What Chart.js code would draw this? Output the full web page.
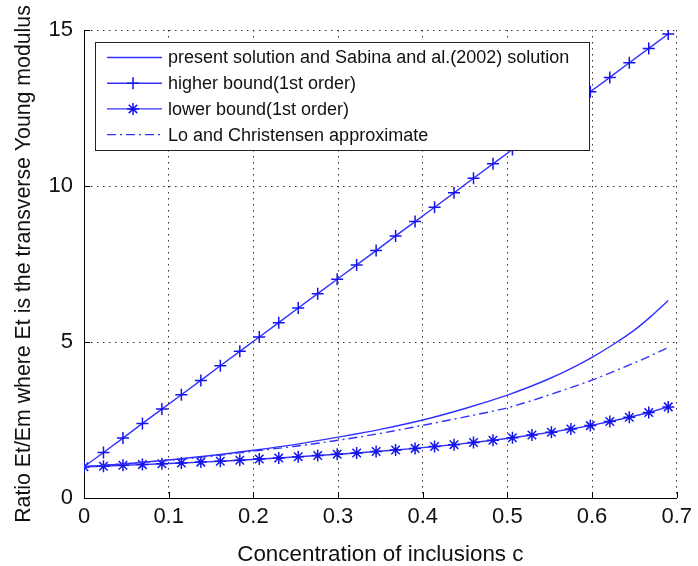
<!DOCTYPE html>
<html>
<head>
<meta charset="utf-8">
<script src="https://cdn.jsdelivr.net/npm/chart.js@4.4.0/dist/chart.umd.min.js"></script>
<style>
  html, body { margin: 0; padding: 0; background: #fff; }
  #wrap { width: 698px; height: 566px; }
</style>
</head>
<body>
<div id="wrap"><canvas id="chart" width="698" height="566"></canvas></div>
<script>
'use strict';

// ── Data ─────────────────────────────────────────────────────────────────────
// marker positions used by the two bounds
const markerC = [0, 0.023, 0.046, 0.069, 0.092, 0.115, 0.138, 0.161, 0.184, 0.207,
                 0.23, 0.253, 0.276, 0.299, 0.322, 0.345, 0.368, 0.391, 0.414, 0.437,
                 0.46, 0.483, 0.506, 0.529, 0.552, 0.575, 0.598, 0.621, 0.644, 0.667, 0.69];
const upperBound = [1, 1.46, 1.92, 2.39, 2.85, 3.31, 3.77, 4.24, 4.70, 5.16,
                    5.62, 6.09, 6.55, 7.01, 7.47, 7.93, 8.40, 8.86, 9.32, 9.78,
                    10.25, 10.71, 11.17, 11.63, 12.10, 12.56, 13.02, 13.48, 13.95, 14.41, 14.87];
const lowerBound = [1, 1.02, 1.05, 1.07, 1.10, 1.12, 1.15, 1.18, 1.21, 1.25,
                    1.28, 1.32, 1.36, 1.40, 1.44, 1.49, 1.54, 1.59, 1.65, 1.71,
                    1.78, 1.85, 1.93, 2.02, 2.11, 2.21, 2.32, 2.45, 2.59, 2.74, 2.92];

// smooth curves
const curveC        = [0, 0.05, 0.1, 0.15, 0.2, 0.25, 0.3, 0.35, 0.4, 0.45, 0.5,
                       0.525, 0.55, 0.575, 0.6, 0.625, 0.65, 0.67, 0.69];
const presentSol    = [1, 1.10, 1.22, 1.36, 1.53, 1.72, 1.95, 2.20, 2.50, 2.87, 3.30,
                       3.55, 3.83, 4.15, 4.51, 4.92, 5.38, 5.83, 6.33];
const loChristensen = [1, 1.10, 1.21, 1.34, 1.50, 1.66, 1.85, 2.07, 2.33, 2.60, 2.89,
                       3.09, 3.31, 3.54, 3.78, 4.05, 4.33, 4.57, 4.82];

const seriesLabels = [
    'present solution and Sabina and al.(2002) solution',
    'higher bound(1st order)',
    'lower bound(1st order)',
    'Lo and Christensen approximate'
];

const xTicks = [0, 0.1, 0.2, 0.3, 0.4, 0.5, 0.6, 0.7];
const yTicks = [0, 5, 10, 15];

// ── Style ────────────────────────────────────────────────────────────────────
const FONT      = "'Liberation Sans', Arial, sans-serif";
const LINE_BLUE = 'rgb(50, 50, 255)';
const MARK_BLUE = 'rgb(20, 20, 235)';

const zip = (xs, ys) => xs.map((x, i) => ({ x, y: ys[i] }));

// MATLAB-style inward tick marks
const innerTicks = {
    id: 'innerTicks',
    afterDraw(chart) {
        const { ctx, chartArea: a, scales: { x, y } } = chart;
        ctx.save();
        ctx.strokeStyle = '#000';
        ctx.lineWidth = 1;
        ctx.beginPath();
        x.ticks.forEach(t => {
            const px = Math.round(x.getPixelForValue(t.value)) + 0.5;
            ctx.moveTo(px, a.bottom); ctx.lineTo(px, a.bottom - 6);
        });
        y.ticks.forEach(t => {
            const py = Math.round(y.getPixelForValue(t.value)) + 0.5;
            ctx.moveTo(a.left, py); ctx.lineTo(a.left + 6, py);
        });
        ctx.stroke();
        ctx.restore();
    }
};

// Boxed legend inside the plot (top-left)
const boxLegend = {
    id: 'boxLegend',
    afterDatasetsDraw(chart) {
        const { ctx, chartArea: a } = chart;
        const bx = a.left + 11, by = a.top + 12, bw = 494, bh = 108;
        ctx.save();
        ctx.fillStyle = '#fff';
        ctx.fillRect(bx, by, bw, bh);
        ctx.strokeStyle = '#222';
        ctx.lineWidth = 1;
        ctx.strokeRect(bx + 0.5, by + 0.5, bw, bh);

        chart.data.datasets.forEach((ds, i) => {
            const cy = by + 15.5 + i * 25.7;
            ctx.save();
            ctx.strokeStyle = ds.borderColor;
            ctx.lineWidth = ds.borderWidth;
            ctx.setLineDash(ds.borderDash || []);
            ctx.beginPath();
            ctx.moveTo(bx + 12, cy); ctx.lineTo(bx + 67, cy);
            ctx.stroke();
            ctx.restore();
            if (ds.pointRadius > 0) {
                ctx.save();
                ctx.strokeStyle = ds.pointBorderColor;
                ctx.fillStyle = ds.pointBackgroundColor;
                ctx.lineWidth = ds.pointBorderWidth;
                Chart.helpers.drawPoint(ctx, {
                    pointStyle: ds.pointStyle, radius: ds.pointRadius,
                    rotation: 0, borderWidth: ds.pointBorderWidth
                }, bx + 38, cy);
                ctx.restore();
            }
            ctx.fillStyle = '#111';
            ctx.font = `18px ${FONT}`;
            ctx.textBaseline = 'middle';
            ctx.fillText(ds.label, bx + 73, cy + 1);
        });
        ctx.restore();
    }
};

new Chart(document.getElementById('chart'), {
    type: 'line',
    data: {
        datasets: [
            {
                label: seriesLabels[0],
                data: zip(curveC, presentSol),
                borderColor: LINE_BLUE, borderWidth: 1.4,
                pointRadius: 0, cubicInterpolationMode: 'monotone'
            },
            {
                label: seriesLabels[1],
                data: zip(markerC, upperBound),
                borderColor: LINE_BLUE, borderWidth: 1.4,
                pointStyle: 'cross', pointRadius: 6, pointBorderWidth: 1.5,
                pointBorderColor: MARK_BLUE, pointBackgroundColor: MARK_BLUE
            },
            {
                label: seriesLabels[2],
                data: zip(markerC, lowerBound),
                borderColor: LINE_BLUE, borderWidth: 1.4,
                pointStyle: 'star', pointRadius: 6, pointBorderWidth: 1.5,
                pointBorderColor: MARK_BLUE, pointBackgroundColor: MARK_BLUE
            },
            {
                label: seriesLabels[3],
                data: zip(curveC, loChristensen),
                borderColor: LINE_BLUE, borderWidth: 1.4, borderDash: [9, 4, 2, 4],
                pointRadius: 0, cubicInterpolationMode: 'monotone'
            }
        ]
    },
    options: {
        responsive: false,
        animation: false,
        devicePixelRatio: 1,
        layout: { padding: { top: 30, right: 16, left: 0, bottom: 0 } },
        plugins: { legend: { display: false }, tooltip: { enabled: false } },
        scales: {
            x: {
                type: 'linear', min: 0, max: 0.7,
                afterBuildTicks: s => { s.ticks = xTicks.map(v => ({ value: v })); },
                afterFit: s => { s.height = 68; },
                border: { display: true, color: '#000', width: 1, dash: [1.5, 4.5] },
                grid: { color: '#333', lineWidth: 1, drawTicks: false },
                ticks: {
                    padding: 6, color: '#111',
                    font: { family: FONT, size: 22 },
                    callback: v => v === 0 ? '0' : v.toFixed(1)
                },
                title: {
                    display: true, text: 'Concentration of inclusions c',
                    color: '#111', font: { family: FONT, size: 22.4 },
                    padding: { top: 0, bottom: -2 }
                }
            },
            y: {
                type: 'linear', min: 0, max: 15,
                afterBuildTicks: s => { s.ticks = yTicks.map(v => ({ value: v })); },
                afterFit: s => { s.width = 84; },
                border: { display: true, color: '#000', width: 1, dash: [1.5, 4.5] },
                grid: { color: '#333', lineWidth: 1, drawTicks: false },
                ticks: {
                    padding: 11, color: '#111',
                    font: { family: FONT, size: 22 },
                    callback: v => String(v)
                },
                title: {
                    display: true, text: 'Ratio Et/Em where Et is the transverse Young modulus',
                    color: '#111', font: { family: FONT, size: 21.3 },
                    padding: { top: 11, bottom: 0 }
                }
            }
        }
    },
    plugins: [innerTicks, boxLegend]
});
</script>
</body>
</html>
